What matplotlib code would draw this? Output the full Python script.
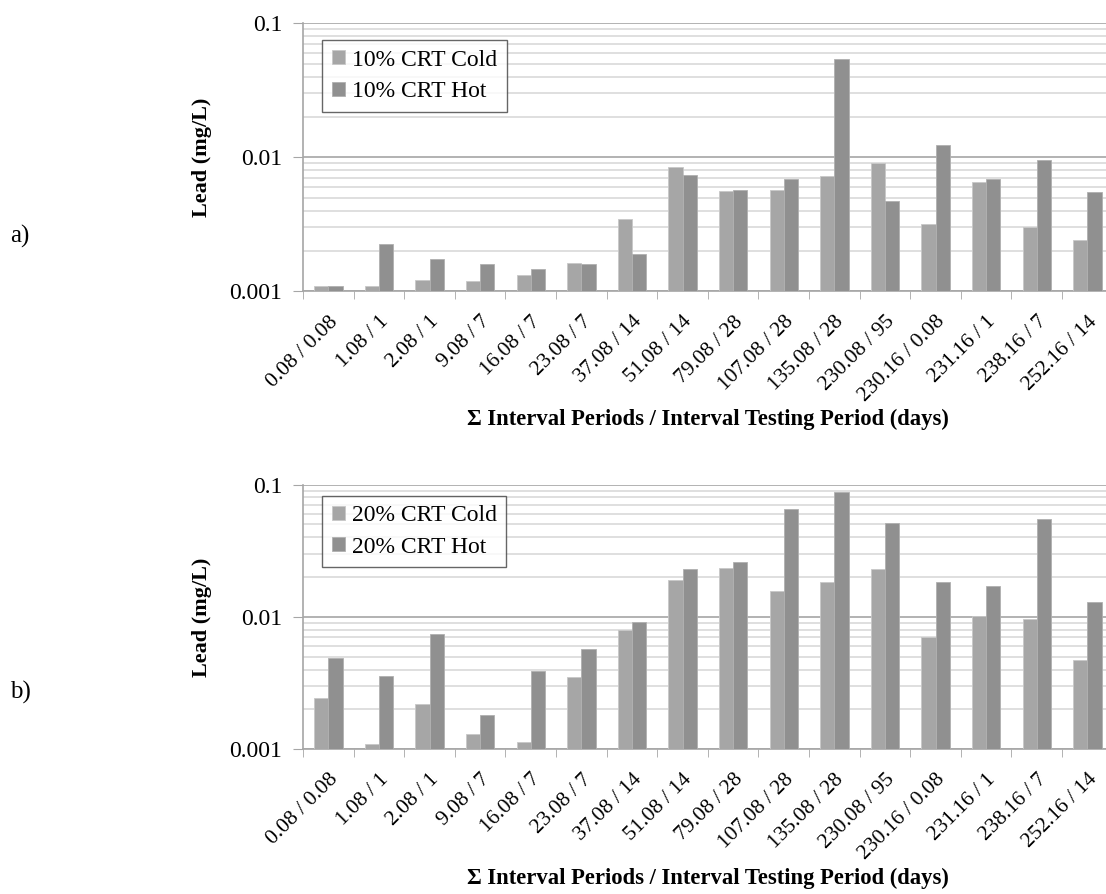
import numpy as np
import matplotlib
matplotlib.use("Agg")
import matplotlib.pyplot as plt
from matplotlib.ticker import LogLocator, FixedLocator, NullFormatter, FixedFormatter

plt.rcParams['font.family'] = ['Liberation Serif', 'DejaVu Serif']

# 横轴类别
categories = ["0.08 / 0.08", "1.08 / 1", "2.08 / 1", "9.08 / 7", "16.08 / 7",
              "23.08 / 7", "37.08 / 14", "51.08 / 14", "79.08 / 28", "107.08 / 28",
              "135.08 / 28", "230.08 / 95", "230.16 / 0.08", "231.16 / 1",
              "238.16 / 7", "252.16 / 14"]

# a) 10% CRT
cold_10 = [0.0011, 0.0011, 0.00122, 0.0012, 0.00132, 0.00164, 0.00344, 0.0085,
           0.0056, 0.0057, 0.0072, 0.0090, 0.0032, 0.0065, 0.0030, 0.0024]
hot_10 = [0.0011, 0.00225, 0.00176, 0.0016, 0.00148, 0.0016, 0.0019, 0.0074,
          0.0057, 0.0069, 0.054, 0.0047, 0.0124, 0.0069, 0.0096, 0.0055]

# b) 20% CRT
cold_20 = [0.00244, 0.0011, 0.0022, 0.0013, 0.00113, 0.0035, 0.0080, 0.0189,
           0.0234, 0.0158, 0.0185, 0.0232, 0.0070, 0.0102, 0.0096, 0.0047]
hot_20 = [0.0049, 0.0036, 0.0074, 0.0018, 0.0039, 0.0057, 0.0092, 0.0232,
          0.0259, 0.065, 0.088, 0.0514, 0.0185, 0.0171, 0.0548, 0.0129]

COLD = "#a6a6a6"
HOT = "#909090"
XLABEL = "Σ Interval Periods / Interval Testing Period (days)"


def draw_panel(ax, cold, hot, names, leg_y, xlab_y):
    x = np.arange(len(categories))
    w = 0.28
    base = 0.001
    ax.bar(x - w / 2, np.array(cold) - base, w, bottom=base, color=COLD,
           edgecolor="#c8c8c8", linewidth=0.6, label=names[0], zorder=3)
    ax.bar(x + w / 2, np.array(hot) - base, w, bottom=base, color=HOT,
           edgecolor="#b0b0b0", linewidth=0.6, label=names[1], zorder=3)

    ax.set_yscale("log")
    ax.set_ylim(0.001, 0.1)
    ax.set_xlim(-0.5, len(categories) - 0.5)

    ax.yaxis.set_major_locator(FixedLocator([0.001, 0.01, 0.1]))
    ax.yaxis.set_major_formatter(FixedFormatter(["0.001", "0.01", "0.1"]))
    ax.yaxis.set_minor_locator(LogLocator(base=10, subs=np.arange(2, 10)))
    ax.yaxis.set_minor_formatter(NullFormatter())
    ax.grid(axis="y", which="minor", color="#d9d9d9", linewidth=1.2, zorder=0)
    ax.grid(axis="y", which="major", color="#a6a6a6", linewidth=1.2, zorder=0)
    ax.tick_params(axis="y", which="major", length=7, color="#a6a6a6",
                   labelsize=17, pad=8)
    ax.tick_params(axis="y", which="minor", length=0)

    # 类别刻度线画在分界处
    ax.set_xticks(x)
    ax.set_xticklabels(categories, rotation=45, ha="right",
                       rotation_mode="anchor", fontsize=15.5)
    ax.set_xticks(np.arange(-0.5, len(categories), 1), minor=True)
    ax.tick_params(axis="x", which="major", length=0, pad=15)
    ax.tick_params(axis="x", which="minor", length=6, color="#a6a6a6")

    for s in ["top", "right"]:
        ax.spines[s].set_visible(False)
    for s in ["left", "bottom"]:
        ax.spines[s].set_color("#a6a6a6")
        ax.spines[s].set_linewidth(1.2)

    ax.set_ylabel("Lead (mg/L)", fontsize=16, fontweight="bold")
    ax.yaxis.set_label_coords(-0.112, 0.5)
    ax.set_xlabel(XLABEL, fontsize=16.3, fontweight="bold")
    ax.xaxis.set_label_coords(0.5, xlab_y)

    leg = ax.legend(loc="upper left", bbox_to_anchor=(0.024, leg_y), fontsize=17,
                    frameon=True, fancybox=False, handlelength=0.55,
                    handleheight=0.55, handletextpad=0.3, borderpad=0.4,
                    labelspacing=0.45, borderaxespad=0)
    leg.get_frame().set_edgecolor("#404040")
    leg.get_frame().set_linewidth(1.0)


fig = plt.figure(figsize=(11.06, 8.94), dpi=100)
ax1 = fig.add_axes([0.274, 0.674, 0.732, 0.300])
ax2 = fig.add_axes([0.274, 0.162, 0.732, 0.296])

draw_panel(ax1, cold_10, hot_10, ["10% CRT Cold", "10% CRT Hot"], 0.937, -0.437)
draw_panel(ax2, cold_20, hot_20, ["20% CRT Cold", "20% CRT Hot"], 0.958, -0.447)

fig.text(0.009, 0.735, "a)", fontsize=18, va="center")
fig.text(0.009, 0.225, "b)", fontsize=18, va="center")

fig.savefig("out.png", dpi=100)
